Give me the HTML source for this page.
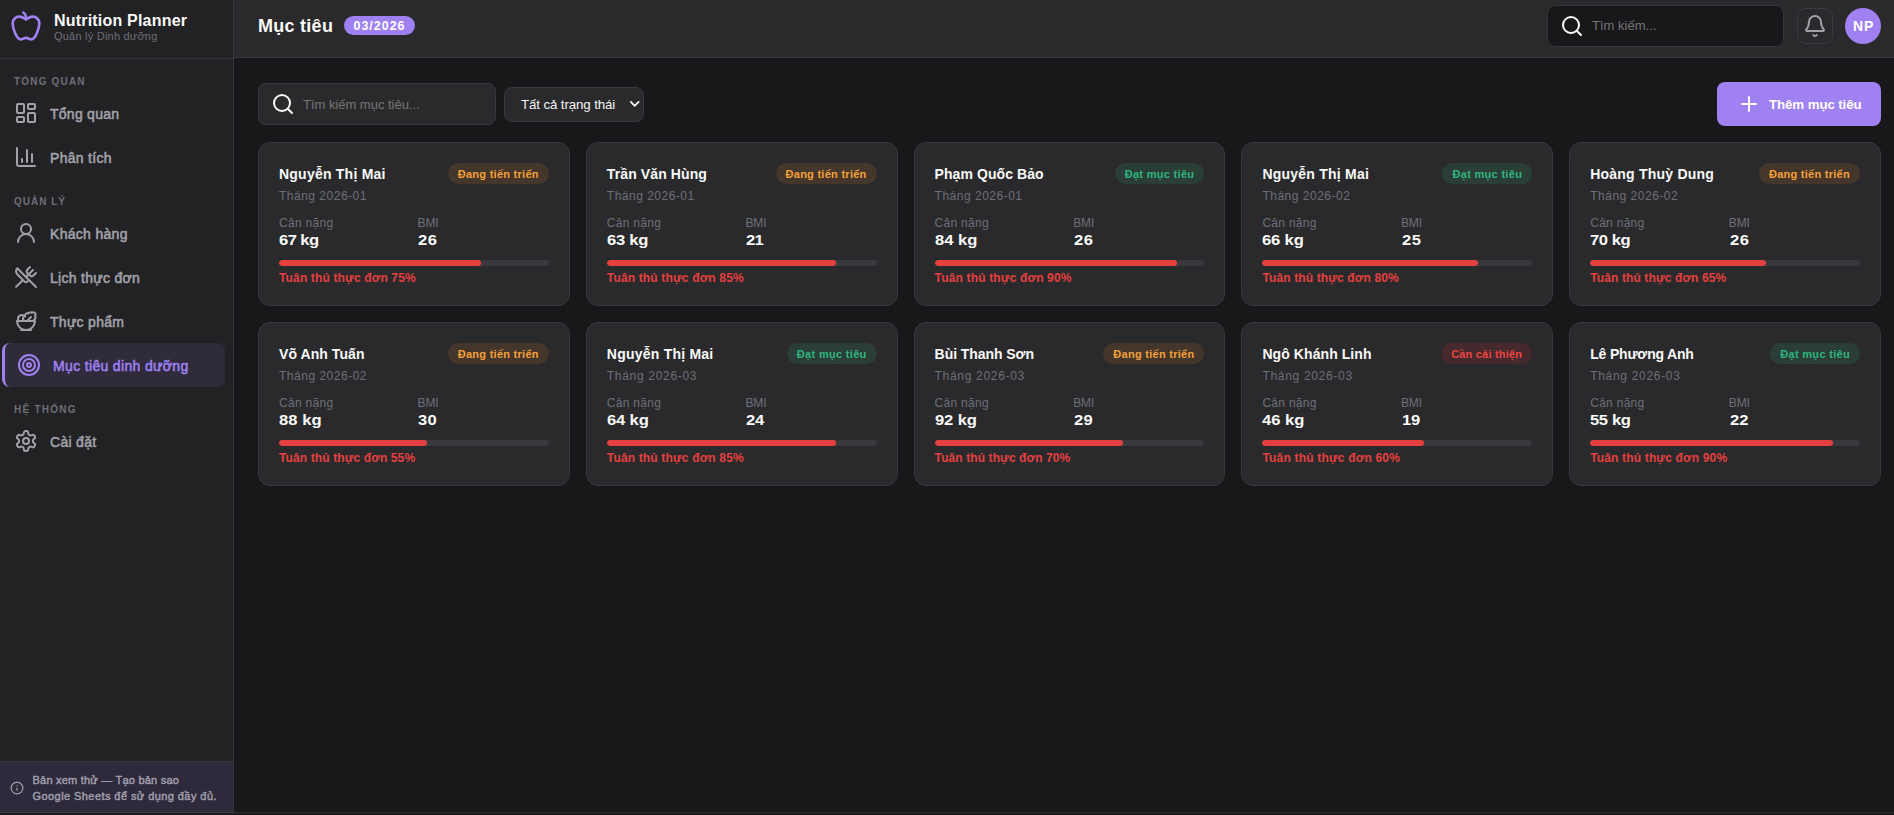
<!DOCTYPE html>
<html lang="vi"><head><meta charset="utf-8"><title>Nutrition Planner</title>
<style>
*{box-sizing:border-box;margin:0;padding:0}
html,body{width:1894px;height:815px;overflow:hidden;background:#18181b}
body{font-family:"Liberation Sans",sans-serif;color:#fafafa;position:relative}
.t{position:absolute;white-space:nowrap}
.ic{position:absolute;display:block}
.abs{position:absolute}
.b{font-weight:700}
#side{position:absolute;left:0;top:0;width:234px;height:815px;background:#222224;border-right:1px solid #35353a}
#top{position:absolute;left:234px;top:0;width:1672px;height:58px;background:#2a2a2c;border-bottom:1px solid #35353a}
.muted{color:#6e6e78}
.nav{color:#a1a1aa;letter-spacing:.3px;-webkit-text-stroke:.55px currentColor}
.sec{color:#6e6e78;font-weight:700;letter-spacing:1.3px}
.card{position:absolute;width:311.8px;height:164px;background:#2a2a2c;border:1px solid #38383d;border-radius:12px}
.card .t{left:20px}
.name{font-weight:700;letter-spacing:.15px}
.month{color:#6e6e78;letter-spacing:.43px}
.lab{color:#6e6e78;letter-spacing:.1px}
.val{font-weight:700;letter-spacing:.15px;transform:scaleX(1.07);transform-origin:0 50%}
.badge{position:absolute;right:20px;top:20px;height:21px;border-radius:11px;padding:0 10px;font-size:11px;font-weight:700;line-height:23px;overflow:hidden;white-space:nowrap}
.bo{background:#45362b;color:#f5a13a;letter-spacing:.27px}
.bg{background:#2a3d37;color:#30b57d;letter-spacing:.31px}
.br{background:#45292c;color:#eb4442;letter-spacing:.2px}
.track{position:absolute;left:20px;right:20px;top:117px;height:6px;border-radius:3px;background:#39393e;overflow:hidden}
.fill{height:6px;border-radius:3px;background:#e5403f}
.comp{color:#e5403f;font-weight:700;letter-spacing:.11px}
</style></head><body>

<aside id="side">
<div class="abs" style="left:0;top:58px;width:233px;height:1px;background:#35353a"></div>
<svg class="ic" style="left:10px;top:10px" width="32" height="32" viewBox="0 0 24 24" fill="none" stroke="#9f81f1" stroke-width="2" stroke-linecap="round" stroke-linejoin="round"><path d="M12 20.94c1.5 0 2.75 1.06 4 1.06 3 0 6-8 6-12.22A4.91 4.91 0 0 0 17 5c-2.22 0-4 1.44-5 2-1-.56-2.78-2-5-2a4.9 4.9 0 0 0-5 4.78C2 14 5 22 8 22c1.25 0 2.5-1.06 4-1.06Z"/><path d="M10 2c1 .5 2 2 2 5"/></svg>
<div class="t b" style="left:54px;top:10px;font-size:16px;line-height:22px;letter-spacing:.1px;color:#fafafa;letter-spacing:0.20px">Nutrition Planner</div>
<div class="t muted" style="left:54px;top:28px;font-size:11px;line-height:16px;letter-spacing:.19px;letter-spacing:0.22px">Quản lý Dinh dưỡng</div>
<div class="t sec" style="left:14px;top:75px;font-size:10px;line-height:14px;;letter-spacing:1.18px">TỔNG QUAN</div>
<div class="t sec" style="left:14px;top:195px;font-size:10px;line-height:14px;;letter-spacing:1.00px">QUẢN LÝ</div>
<div class="t sec" style="left:14px;top:403px;font-size:10px;line-height:14px;;letter-spacing:1.24px">HỆ THỐNG</div>
<svg class="ic" style="left:14px;top:101px" width="24" height="24" viewBox="0 0 24 24" fill="none" stroke="#a1a1aa" stroke-width="2" stroke-linecap="round" stroke-linejoin="round"><rect width="7" height="9" x="3" y="3" rx="1"/><rect width="7" height="5" x="14" y="3" rx="1"/><rect width="7" height="9" x="14" y="12" rx="1"/><rect width="7" height="5" x="3" y="16" rx="1"/></svg>
<div class="t nav" style="left:50px;top:104px;font-size:14px;line-height:20px;;letter-spacing:0.26px">Tổng quan</div>
<svg class="ic" style="left:14px;top:145px" width="24" height="24" viewBox="0 0 24 24" fill="none" stroke="#a1a1aa" stroke-width="2" stroke-linecap="round" stroke-linejoin="round"><path d="M3 3v16a2 2 0 0 0 2 2h16"/><path d="M18 17V9"/><path d="M13 17V5"/><path d="M8 17v-3"/></svg>
<div class="t nav" style="left:50px;top:148px;font-size:14px;line-height:20px;;letter-spacing:0.29px">Phân tích</div>
<svg class="ic" style="left:14px;top:221px" width="24" height="24" viewBox="0 0 24 24" fill="none" stroke="#a1a1aa" stroke-width="2" stroke-linecap="round" stroke-linejoin="round"><circle cx="12" cy="8" r="5"/><path d="M20 21a8 8 0 0 0-16 0"/></svg>
<div class="t nav" style="left:50px;top:224px;font-size:14px;line-height:20px;">Khách hàng</div>
<svg class="ic" style="left:14px;top:265px" width="24" height="24" viewBox="0 0 24 24" fill="none" stroke="#a1a1aa" stroke-width="2" stroke-linecap="round" stroke-linejoin="round"><path d="m16 2-2.3 2.3a3 3 0 0 0 0 4.2l1.8 1.8a3 3 0 0 0 4.2 0L22 8"/><path d="M15 15 3.3 3.3a4.2 4.2 0 0 0 0 6l7.3 7.3c.7.7 2 .7 2.8 0L15 15Zm0 0 7 7"/><path d="m2.1 21.8 6.4-6.3"/><path d="m19 5-7 7"/></svg>
<div class="t nav" style="left:50px;top:268px;font-size:14px;line-height:20px;">Lịch thực đơn</div>
<svg class="ic" style="left:14px;top:309px" width="24" height="24" viewBox="0 0 24 24" fill="none" stroke="#a1a1aa" stroke-width="2" stroke-linecap="round" stroke-linejoin="round"><path d="M7 21h10"/><path d="M12 21a9 9 0 0 0 9-9H3a9 9 0 0 0 9 9Z"/><path d="M11.38 12a2.4 2.4 0 0 1-.4-4.77 2.4 2.4 0 0 1 3.2-2.77 2.4 2.4 0 0 1 3.47-.63 2.4 2.4 0 0 1 3.37 3.37 2.4 2.4 0 0 1-1.1 3.7 2.51 2.51 0 0 1 .03 1.1"/><path d="m13 12 4-4"/><path d="M10.9 7.25A3.99 3.99 0 0 0 4 10c0 .73.2 1.41.54 2"/></svg>
<div class="t nav" style="left:50px;top:312px;font-size:14px;line-height:20px;">Thực phẩm</div>
<div class="abs" style="left:2px;top:343px;width:223px;height:44px;background:#2f2b3b;border-left:3px solid #9f81f1;border-radius:8px"></div>
<svg class="ic" style="left:17px;top:353px" width="24" height="24" viewBox="0 0 24 24" fill="none" stroke="#9f81f1" stroke-width="2" stroke-linecap="round" stroke-linejoin="round"><circle cx="12" cy="12" r="10"/><circle cx="12" cy="12" r="6"/><circle cx="12" cy="12" r="2"/></svg>
<div class="t nav" style="left:53px;top:356px;font-size:14px;line-height:20px;color:#9f81f1;letter-spacing:.36px;letter-spacing:0.34px">Mục tiêu dinh dưỡng</div>
<svg class="ic" style="left:14px;top:429px" width="24" height="24" viewBox="0 0 24 24" fill="none" stroke="#a1a1aa" stroke-width="2" stroke-linecap="round" stroke-linejoin="round"><path d="M12.22 2h-.44a2 2 0 0 0-2 2v.18a2 2 0 0 1-1 1.73l-.43.25a2 2 0 0 1-2 0l-.15-.08a2 2 0 0 0-2.73.73l-.22.38a2 2 0 0 0 .73 2.73l.15.1a2 2 0 0 1 1 1.72v.51a2 2 0 0 1-1 1.74l-.15.09a2 2 0 0 0-.73 2.73l.22.38a2 2 0 0 0 2.73.73l.15-.08a2 2 0 0 1 2 0l.43.25a2 2 0 0 1 1 1.73V20a2 2 0 0 0 2 2h.44a2 2 0 0 0 2-2v-.18a2 2 0 0 1 1-1.73l.43-.25a2 2 0 0 1 2 0l.15.08a2 2 0 0 0 2.73-.73l.22-.39a2 2 0 0 0-.73-2.73l-.15-.08a2 2 0 0 1-1-1.74v-.5a2 2 0 0 1 1-1.74l.15-.09a2 2 0 0 0 .73-2.73l-.22-.38a2 2 0 0 0-2.73-.73l-.15.08a2 2 0 0 1-2 0l-.43-.25a2 2 0 0 1-1-1.73V4a2 2 0 0 0-2-2z"/><circle cx="12" cy="12" r="3"/></svg>
<div class="t nav" style="left:50px;top:432px;font-size:14px;line-height:20px;">Cài đặt</div>
<div class="abs" style="left:0;top:761px;width:233px;height:54px;background:#2f2a3b;border-top:1px solid #35353a"></div>
<svg class="ic" style="left:10px;top:781px" width="14" height="14" viewBox="0 0 24 24" fill="none" stroke="#a3a1b0" stroke-width="2" stroke-linecap="round" stroke-linejoin="round"><circle cx="12" cy="12" r="10"/><path d="M12 16v-4"/><path d="M12 8h.01"/></svg>
<div class="t " style="left:32.5px;top:772px;font-size:11px;line-height:16px;color:#a3a1b0;letter-spacing:.18px;-webkit-text-stroke:.4px currentColor;letter-spacing:0.22px">Bản xem thử — Tạo bản sao</div>
<div class="t " style="left:32.5px;top:788px;font-size:11px;line-height:16px;color:#a3a1b0;letter-spacing:.38px;-webkit-text-stroke:.4px currentColor;letter-spacing:0.43px">Google Sheets để sử dụng đầy đủ.</div>
</aside>
<header>
<div id="top"></div>
<div class="t b" style="left:258px;top:14px;font-size:18px;line-height:24px;letter-spacing:.15px;letter-spacing:0.27px">Mục tiêu</div>
<div class="abs" style="left:344px;top:16px;width:71px;height:19px;border-radius:10px;background:#9f81f1"></div>
<div class="t b" style="left:353.5px;top:18px;font-size:12.5px;line-height:16px;letter-spacing:.7px;color:#fff;letter-spacing:0.97px">03/2026</div>
<div class="abs" style="left:1547px;top:5px;width:237px;height:42px;border-radius:8px;background:#18181b;border:1px solid #35353a"></div>
<svg class="ic" style="left:1560px;top:14px" width="24" height="24" viewBox="0 0 24 24" fill="none" stroke="#fafafa" stroke-width="2" stroke-linecap="round" stroke-linejoin="round"><circle cx="11" cy="11" r="8"/><path d="m21 21-4.3-4.3"/></svg>
<div class="t " style="left:1592px;top:17px;font-size:13px;line-height:18px;color:#757575;letter-spacing:-.1px;letter-spacing:0.02px">Tìm kiếm...</div>
<div class="abs" style="left:1797px;top:8px;width:36px;height:36px;border-radius:8px;border:1px solid #3a3a40"></div>
<svg class="ic" style="left:1803px;top:14px" width="24" height="24" viewBox="0 0 24 24" fill="none" stroke="#a1a1aa" stroke-width="2" stroke-linecap="round" stroke-linejoin="round"><path d="M10.268 21a2 2 0 0 0 3.464 0"/><path d="M3.262 15.326A1 1 0 0 0 4 17h16a1 1 0 0 0 .74-1.673C19.41 13.956 18 12.499 18 8A6 6 0 0 0 6 8c0 4.499-1.411 5.956-2.738 7.326"/></svg>
<div class="abs" style="left:1845px;top:8px;width:36px;height:36px;border-radius:18px;background:#9f81f1"></div>
<div class="t b" style="left:1853px;top:17px;font-size:14px;line-height:18px;letter-spacing:0;color:#fff;letter-spacing:1.00px">NP</div>
</header>
<main>
<div class="abs" style="left:258px;top:83px;width:238px;height:42px;border-radius:8px;background:#2a2a2c;border:1px solid #38383d"></div>
<svg class="ic" style="left:271px;top:92px" width="24" height="24" viewBox="0 0 24 24" fill="none" stroke="#fafafa" stroke-width="2" stroke-linecap="round" stroke-linejoin="round"><circle cx="11" cy="11" r="8"/><path d="m21 21-4.3-4.3"/></svg>
<div class="t " style="left:303px;top:96px;font-size:13px;line-height:18px;color:#757575;letter-spacing:-.05px;letter-spacing:-0.02px">Tìm kiếm mục tiêu...</div>
<div class="abs" style="left:504px;top:87px;width:140px;height:35px;border-radius:8px;background:#2a2a2c;border:1px solid #38383d"></div>
<div class="t " style="left:521px;top:96px;font-size:13.33px;line-height:18px;color:#f4f4f5;letter-spacing:-.17px;letter-spacing:-0.13px">Tất cả trạng thái</div>
<svg class="ic" style="left:629px;top:100px" width="12" height="9" viewBox="0 0 12 9" fill="none" stroke="#f4f4f5" stroke-width="1.8" stroke-linecap="round" stroke-linejoin="round"><path d="M1.8 1.9 5.7 5.9 9.6 1.9"/></svg>
<div class="abs" style="left:1717px;top:82px;width:164px;height:44px;border-radius:8px;background:#9f81f1"></div>
<svg class="ic" style="left:1737px;top:92px" width="24" height="24" viewBox="0 0 24 24" fill="none" stroke="#ffffff" stroke-width="2" stroke-linecap="round" stroke-linejoin="round"><path d="M5 12h14"/><path d="M12 5v14"/></svg>
<div class="t b" style="left:1769px;top:96px;font-size:13.33px;line-height:18px;color:#fff;letter-spacing:-.2px;letter-spacing:-0.12px">Thêm mục tiêu</div>
<div class="card" style="left:258.0px;top:142px"><div class="t name" style="left:20px;top:21px;font-size:14px;line-height:20px;;letter-spacing:0.23px">Nguyễn Thị Mai</div><div class="badge bo">Đang tiến triển</div><div class="t month" style="left:20px;top:45px;font-size:12px;line-height:16px;;letter-spacing:0.50px">Tháng 2026-01</div><div class="t lab" style="left:20px;top:72px;font-size:12px;line-height:16px;;letter-spacing:0.29px">Cân nặng</div><div class="t lab" style="left:20px;top:72px;font-size:12px;line-height:16px;left:158.6px;letter-spacing:0;letter-spacing:-0.12px">BMI</div><div class="t val" style="left:20px;top:87px;font-size:15.5px;line-height:20px;;letter-spacing:-0.55px">67 kg</div><div class="t val" style="left:20px;top:87px;font-size:15.5px;line-height:20px;left:159.4px;letter-spacing:.9px;letter-spacing:0.50px">26</div><div class="track"><div class="fill" style="width:75%"></div></div><div class="t comp" style="left:20px;top:127px;font-size:12px;line-height:16px;;letter-spacing:0.15px">Tuân thủ thực đơn 75%</div></div>
<div class="card" style="left:585.8px;top:142px"><div class="t name" style="left:20px;top:21px;font-size:14px;line-height:20px;;letter-spacing:0.11px">Trần Văn Hùng</div><div class="badge bo">Đang tiến triển</div><div class="t month" style="left:20px;top:45px;font-size:12px;line-height:16px;;letter-spacing:0.50px">Tháng 2026-01</div><div class="t lab" style="left:20px;top:72px;font-size:12px;line-height:16px;;letter-spacing:0.29px">Cân nặng</div><div class="t lab" style="left:20px;top:72px;font-size:12px;line-height:16px;left:158.6px;letter-spacing:0;letter-spacing:-0.12px">BMI</div><div class="t val" style="left:20px;top:87px;font-size:15.5px;line-height:20px;;letter-spacing:-0.23px">63 kg</div><div class="t val" style="left:20px;top:87px;font-size:15.5px;line-height:20px;left:159.4px;letter-spacing:.9px;letter-spacing:-0.60px">21</div><div class="track"><div class="fill" style="width:85%"></div></div><div class="t comp" style="left:20px;top:127px;font-size:12px;line-height:16px;;letter-spacing:0.16px">Tuân thủ thực đơn 85%</div></div>
<div class="card" style="left:913.6px;top:142px"><div class="t name" style="left:20px;top:21px;font-size:14px;line-height:20px;;letter-spacing:0.07px">Phạm Quốc Bảo</div><div class="badge bg">Đạt mục tiêu</div><div class="t month" style="left:20px;top:45px;font-size:12px;line-height:16px;;letter-spacing:0.50px">Tháng 2026-01</div><div class="t lab" style="left:20px;top:72px;font-size:12px;line-height:16px;;letter-spacing:0.29px">Cân nặng</div><div class="t lab" style="left:20px;top:72px;font-size:12px;line-height:16px;left:158.6px;letter-spacing:0;letter-spacing:-0.12px">BMI</div><div class="t val" style="left:20px;top:87px;font-size:15.5px;line-height:20px;;letter-spacing:0.00px">84 kg</div><div class="t val" style="left:20px;top:87px;font-size:15.5px;line-height:20px;left:159.4px;letter-spacing:.9px;letter-spacing:0.50px">26</div><div class="track"><div class="fill" style="width:90%"></div></div><div class="t comp" style="left:20px;top:127px;font-size:12px;line-height:16px;;letter-spacing:0.16px">Tuân thủ thực đơn 90%</div></div>
<div class="card" style="left:1241.4px;top:142px"><div class="t name" style="left:20px;top:21px;font-size:14px;line-height:20px;;letter-spacing:0.23px">Nguyễn Thị Mai</div><div class="badge bg">Đạt mục tiêu</div><div class="t month" style="left:20px;top:45px;font-size:12px;line-height:16px;;letter-spacing:0.51px">Tháng 2026-02</div><div class="t lab" style="left:20px;top:72px;font-size:12px;line-height:16px;;letter-spacing:0.29px">Cân nặng</div><div class="t lab" style="left:20px;top:72px;font-size:12px;line-height:16px;left:158.6px;letter-spacing:0;letter-spacing:-0.12px">BMI</div><div class="t val" style="left:20px;top:87px;font-size:15.5px;line-height:20px;;letter-spacing:-0.15px">66 kg</div><div class="t val" style="left:20px;top:87px;font-size:15.5px;line-height:20px;left:159.4px;letter-spacing:.9px;letter-spacing:0.50px">25</div><div class="track"><div class="fill" style="width:80%"></div></div><div class="t comp" style="left:20px;top:127px;font-size:12px;line-height:16px;;letter-spacing:0.13px">Tuân thủ thực đơn 80%</div></div>
<div class="card" style="left:1569.2px;top:142px"><div class="t name" style="left:20px;top:21px;font-size:14px;line-height:20px;;letter-spacing:0.22px">Hoàng Thuỳ Dung</div><div class="badge bo">Đang tiến triển</div><div class="t month" style="left:20px;top:45px;font-size:12px;line-height:16px;;letter-spacing:0.51px">Tháng 2026-02</div><div class="t lab" style="left:20px;top:72px;font-size:12px;line-height:16px;;letter-spacing:0.29px">Cân nặng</div><div class="t lab" style="left:20px;top:72px;font-size:12px;line-height:16px;left:158.6px;letter-spacing:0;letter-spacing:-0.12px">BMI</div><div class="t val" style="left:20px;top:87px;font-size:15.5px;line-height:20px;;letter-spacing:-0.43px">70 kg</div><div class="t val" style="left:20px;top:87px;font-size:15.5px;line-height:20px;left:159.4px;letter-spacing:.9px;letter-spacing:0.50px">26</div><div class="track"><div class="fill" style="width:65%"></div></div><div class="t comp" style="left:20px;top:127px;font-size:12px;line-height:16px;;letter-spacing:0.12px">Tuân thủ thực đơn 65%</div></div>
<div class="card" style="left:258.0px;top:322px"><div class="t name" style="left:20px;top:21px;font-size:14px;line-height:20px;;letter-spacing:0.07px">Võ Anh Tuấn</div><div class="badge bo">Đang tiến triển</div><div class="t month" style="left:20px;top:45px;font-size:12px;line-height:16px;;letter-spacing:0.51px">Tháng 2026-02</div><div class="t lab" style="left:20px;top:72px;font-size:12px;line-height:16px;;letter-spacing:0.29px">Cân nặng</div><div class="t lab" style="left:20px;top:72px;font-size:12px;line-height:16px;left:158.6px;letter-spacing:0;letter-spacing:-0.12px">BMI</div><div class="t val" style="left:20px;top:87px;font-size:15.5px;line-height:20px;;letter-spacing:0.05px">88 kg</div><div class="t val" style="left:20px;top:87px;font-size:15.5px;line-height:20px;left:159.4px;letter-spacing:.9px;letter-spacing:0.30px">30</div><div class="track"><div class="fill" style="width:55%"></div></div><div class="t comp" style="left:20px;top:127px;font-size:12px;line-height:16px;;letter-spacing:0.12px">Tuân thủ thực đơn 55%</div></div>
<div class="card" style="left:585.8px;top:322px"><div class="t name" style="left:20px;top:21px;font-size:14px;line-height:20px;;letter-spacing:0.23px">Nguyễn Thị Mai</div><div class="badge bg">Đạt mục tiêu</div><div class="t month" style="left:20px;top:45px;font-size:12px;line-height:16px;;letter-spacing:0.69px">Tháng 2026-03</div><div class="t lab" style="left:20px;top:72px;font-size:12px;line-height:16px;;letter-spacing:0.29px">Cân nặng</div><div class="t lab" style="left:20px;top:72px;font-size:12px;line-height:16px;left:158.6px;letter-spacing:0;letter-spacing:-0.12px">BMI</div><div class="t val" style="left:20px;top:87px;font-size:15.5px;line-height:20px;;letter-spacing:-0.15px">64 kg</div><div class="t val" style="left:20px;top:87px;font-size:15.5px;line-height:20px;left:159.4px;letter-spacing:.9px;letter-spacing:-0.10px">24</div><div class="track"><div class="fill" style="width:85%"></div></div><div class="t comp" style="left:20px;top:127px;font-size:12px;line-height:16px;;letter-spacing:0.16px">Tuân thủ thực đơn 85%</div></div>
<div class="card" style="left:913.6px;top:322px"><div class="t name" style="left:20px;top:21px;font-size:14px;line-height:20px;;letter-spacing:-0.06px">Bùi Thanh Sơn</div><div class="badge bo">Đang tiến triển</div><div class="t month" style="left:20px;top:45px;font-size:12px;line-height:16px;;letter-spacing:0.69px">Tháng 2026-03</div><div class="t lab" style="left:20px;top:72px;font-size:12px;line-height:16px;;letter-spacing:0.29px">Cân nặng</div><div class="t lab" style="left:20px;top:72px;font-size:12px;line-height:16px;left:158.6px;letter-spacing:0;letter-spacing:-0.12px">BMI</div><div class="t val" style="left:20px;top:87px;font-size:15.5px;line-height:20px;;letter-spacing:-0.13px">92 kg</div><div class="t val" style="left:20px;top:87px;font-size:15.5px;line-height:20px;left:159.4px;letter-spacing:.9px;letter-spacing:0.30px">29</div><div class="track"><div class="fill" style="width:70%"></div></div><div class="t comp" style="left:20px;top:127px;font-size:12px;line-height:16px;;letter-spacing:0.10px">Tuân thủ thực đơn 70%</div></div>
<div class="card" style="left:1241.4px;top:322px"><div class="t name" style="left:20px;top:21px;font-size:14px;line-height:20px;;letter-spacing:0.08px">Ngô Khánh Linh</div><div class="badge br">Cần cải thiện</div><div class="t month" style="left:20px;top:45px;font-size:12px;line-height:16px;;letter-spacing:0.69px">Tháng 2026-03</div><div class="t lab" style="left:20px;top:72px;font-size:12px;line-height:16px;;letter-spacing:0.29px">Cân nặng</div><div class="t lab" style="left:20px;top:72px;font-size:12px;line-height:16px;left:158.6px;letter-spacing:0;letter-spacing:-0.12px">BMI</div><div class="t val" style="left:20px;top:87px;font-size:15.5px;line-height:20px;;letter-spacing:0.00px">46 kg</div><div class="t val" style="left:20px;top:87px;font-size:15.5px;line-height:20px;left:159.4px;letter-spacing:.9px;letter-spacing:-0.10px">19</div><div class="track"><div class="fill" style="width:60%"></div></div><div class="t comp" style="left:20px;top:127px;font-size:12px;line-height:16px;;letter-spacing:0.19px">Tuân thủ thực đơn 60%</div></div>
<div class="card" style="left:1569.2px;top:322px"><div class="t name" style="left:20px;top:21px;font-size:14px;line-height:20px;;letter-spacing:-0.18px">Lê Phương Anh</div><div class="badge bg">Đạt mục tiêu</div><div class="t month" style="left:20px;top:45px;font-size:12px;line-height:16px;;letter-spacing:0.69px">Tháng 2026-03</div><div class="t lab" style="left:20px;top:72px;font-size:12px;line-height:16px;;letter-spacing:0.29px">Cân nặng</div><div class="t lab" style="left:20px;top:72px;font-size:12px;line-height:16px;left:158.6px;letter-spacing:0;letter-spacing:-0.12px">BMI</div><div class="t val" style="left:20px;top:87px;font-size:15.5px;line-height:20px;;letter-spacing:-0.34px">55 kg</div><div class="t val" style="left:20px;top:87px;font-size:15.5px;line-height:20px;left:159.4px;letter-spacing:.9px;letter-spacing:0.10px">22</div><div class="track"><div class="fill" style="width:90%"></div></div><div class="t comp" style="left:20px;top:127px;font-size:12px;line-height:16px;;letter-spacing:0.16px">Tuân thủ thực đơn 90%</div></div>
</main>
<div class="abs" style="left:0;top:812px;width:1894px;height:1px;background:rgba(255,255,255,.09)"></div>
<div class="abs" style="left:0;top:813px;width:1894px;height:2px;background:#1b1b1b"></div>
</body></html>
